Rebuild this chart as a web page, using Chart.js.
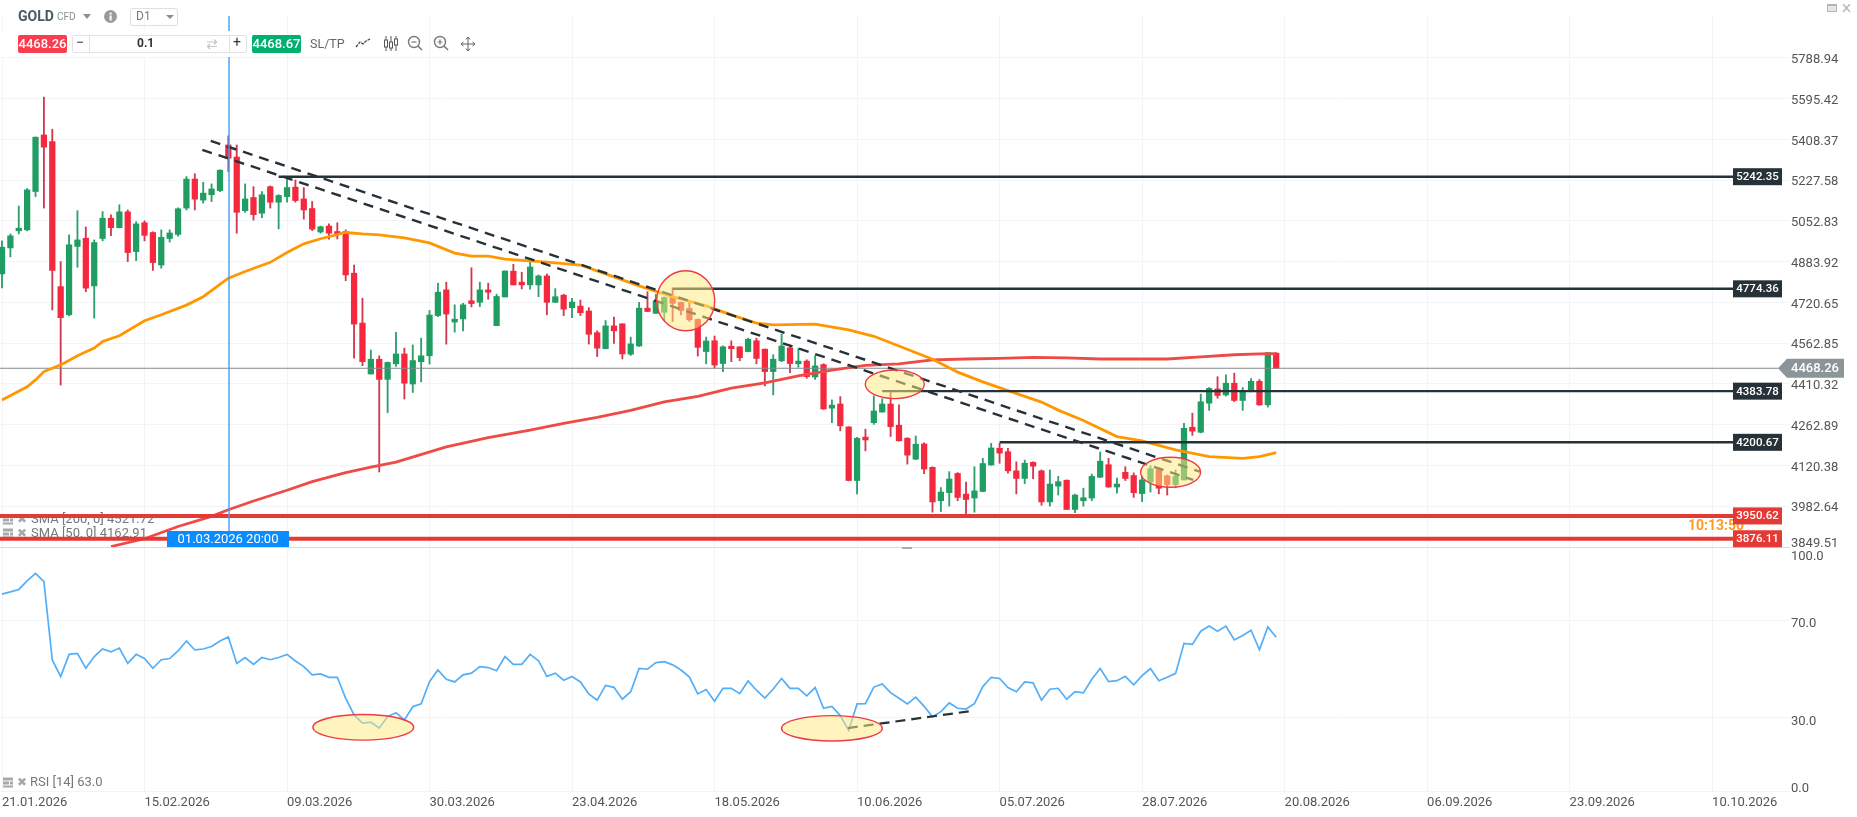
<!DOCTYPE html>
<html>
<head>
<meta charset="utf-8">
<title>GOLD D1</title>
<script src="https://cdn.jsdelivr.net/npm/chart.js@4/dist/chart.umd.min.js"></script>
<style>
body {margin:0; background:#fff; font-family:Roboto,sans-serif; overflow:hidden;}
#wrap {position:relative; width:1857px; height:817px;}
#topstrip {position:absolute; left:0; top:0; width:1857px; height:16px; background:#fff;}
#toolstrip {position:absolute; left:0; top:31px; width:280px; height:26px; background:#fff;}
.t {position:absolute; white-space:nowrap;}
.box {position:absolute; box-sizing:border-box;}
.price {color:#fff; font-size:13px; font-weight:500; text-align:center; line-height:18px; height:18px; width:49px; top:35px; border-radius:2px;}
svg {position:absolute;}
</style>
</head>
<body>
<div id="wrap">
  <canvas id="gold_chart" width="1857" height="817" style="position:absolute;left:0;top:0"></canvas>
  <div id="topstrip"></div>
  <div id="toolstrip"></div>

  <div class="t" style="left:18px;top:8px;font-size:14px;font-weight:700;color:#455a64">GOLD</div>
  <div class="t" style="left:57px;top:11px;font-size:10px;color:#8a8f94">CFD</div>
  <svg style="left:83px;top:14px" width="8" height="5"><path d="M0 0H8L4 5Z" fill="#8a8f94"/></svg>
  <svg style="left:104px;top:10px" width="13" height="13"><circle cx="6.5" cy="6.5" r="6.5" fill="#9a9a9a"/><rect x="5.6" y="5.5" width="2" height="5" fill="#fff"/><rect x="5.6" y="2.6" width="2" height="2" fill="#fff"/></svg>
  <div class="box" style="left:130px;top:8px;width:48px;height:18px;border:1px solid #e0e0e0;border-radius:2px"></div>
  <div class="t" style="left:136px;top:9px;font-size:12px;color:#7b7b7b">D1</div>
  <svg style="left:166px;top:15px" width="8" height="4"><path d="M0 0H8L4 4Z" fill="#8a8f94"/></svg>

  <div class="box price" style="left:18px;background:#fb3b4e">4468.26</div>
  <div class="box" style="left:72px;top:35px;width:175px;height:18px;border:1px solid #e2e2e2;border-radius:2px"></div>
  <div class="box" style="left:89px;top:35px;width:1px;height:18px;background:#e2e2e2"></div>
  <div class="box" style="left:229px;top:35px;width:1px;height:18px;background:#e2e2e2"></div>
  <div class="t" style="left:76px;top:34px;font-size:14px;color:#333">&#8722;</div>
  <div class="t" style="left:137px;top:36px;font-size:12px;font-weight:700;color:#333">0.1</div>
  <div class="t" style="left:233px;top:34px;font-size:14px;color:#333">+</div>
  <svg style="left:206px;top:38px" width="12" height="12"><path d="M1 4H10M8 1.5L10.5 4 8 6.5M11 8.5H2M4 6L1.5 8.5 4 11" fill="none" stroke="#c4c4c4" stroke-width="1.2"/></svg>
  <div class="box price" style="left:252px;background:#00b06f">4468.67</div>
  <div class="t" style="left:310px;top:36px;font-size:12.5px;color:#666">SL/TP</div>
  <svg style="left:355px;top:38px" width="16" height="10"><path d="M1 9L5 4 8 6 11 3 15 1" fill="none" stroke="#444" stroke-width="1.3" stroke-dasharray="3 1"/></svg>
  <svg style="left:383px;top:35px" width="16" height="18"><path d="M3 1V16M8 1V16M13 1V16" stroke="#555" stroke-width="1"/><rect x="1.5" y="5" width="3" height="7" fill="#fff" stroke="#555"/><rect x="6.5" y="7" width="3" height="6" fill="#fff" stroke="#555"/><rect x="11.5" y="4" width="3" height="6" fill="#fff" stroke="#555"/></svg>
  <svg style="left:407px;top:35px" width="16" height="16"><circle cx="7" cy="7" r="5.5" fill="none" stroke="#777" stroke-width="1.4"/><path d="M11 11L15 15" stroke="#777" stroke-width="1.6"/><path d="M4.5 7H9.5" stroke="#777" stroke-width="1.2"/></svg>
  <svg style="left:433px;top:35px" width="16" height="16"><circle cx="7" cy="7" r="5.5" fill="none" stroke="#777" stroke-width="1.4"/><path d="M11 11L15 15" stroke="#777" stroke-width="1.6"/><path d="M4.5 7H9.5M7 4.5V9.5" stroke="#777" stroke-width="1.2"/></svg>
  <svg style="left:460px;top:36px" width="16" height="16"><path d="M8 1V15M1 8H15M8 1L6 3.5M8 1L10 3.5M8 15L6 12.5M8 15L10 12.5M1 8L3.5 6M1 8L3.5 10M15 8L12.5 6M15 8L12.5 10" fill="none" stroke="#666" stroke-width="1"/></svg>

  <svg style="left:1827px;top:4px" width="26" height="9"><rect x="0" y="0" width="10" height="8" fill="#b5b5b5"/><rect x="1" y="2" width="8" height="5" fill="#e6e6e6"/><path d="M16 0L23 8M23 0L16 8" stroke="#b5b5b5" stroke-width="1.4"/></svg>
</div>

<script>
// ticks
const tickLabels = ['21.01.2026','15.02.2026','09.03.2026','30.03.2026','23.04.2026','18.05.2026','10.06.2026','05.07.2026','28.07.2026','20.08.2026','06.09.2026','23.09.2026','10.10.2026'];
const tickStep = 17;
const priceTicks = [5788.94,5595.42,5408.37,5227.58,5052.83,4883.92,4720.65,4562.85,4410.32,4262.89,4120.38,3982.64,3849.51];
const rsiTicks = [100,70,30,0];

// candles, one per trading day
const opens = [4834,4940,5011,5015,5178,5428,5398,4783,4672,4946,
  4980,4786,4979,5064,5024,5091,4925,5045,5004,4870,
  4979,4996,5107,5232,5141,5164,5182,5383,5329,5096,
  5152,5085,5199,5132,5156,5197,5146,5105,5006,5031,
  5008,5008,4837,4640,4447,4502,4427,4485,4522,4410,
  4493,4515,4669,4770,4644,4656,4727,4721,4770,4630,
  4742,4845,4801,4790,4790,4826,4721,4749,4700,4706,
  4687,4603,4542,4629,4637,4521,4552,4698,4678,4682,
  4741,4721,4697,4654,4531,4572,4486,4551,4549,4531,
  4572,4540,4456,4496,4545,4485,4495,4436,4482,4322,
  4337,4255,4069,4219,4270,4308,4337,4261,4215,4142,
  4195,4114,4001,4028,4093,4023,4010,4032,4122,4180,
  4168,4102,4076,4131,4102,3997,4050,4070,3972,4001,
  4010,4080,4123,4047,4097,4086,4025,4064,4106,4085,
  4055,4071,4254,4236,4340,4392,4370,4413,4350,4382,
  4420,4334,4525];
const closes = [4943,4990,5022,5185,5418,5373,4848,4661,4953,4973,
  4777,4962,5064,5024,5091,4921,5040,4992,4880,4984,
  5002,5104,5232,5145,5171,5189,5271,5324,5089,5146,
  5079,5164,5132,5161,5195,5139,5099,5018,5028,5001,
  4998,4830,4636,4493,4502,4427,4490,4522,4413,4497,
  4515,4671,4761,4675,4655,4711,4716,4770,4761,4744,
  4846,4790,4790,4862,4826,4721,4743,4694,4722,4680,
  4597,4544,4629,4610,4522,4560,4698,4685,4726,4740,
  4717,4689,4653,4547,4571,4480,4549,4542,4508,4578,
  4505,4456,4502,4552,4486,4495,4437,4477,4319,4333,
  4259,4069,4215,4209,4312,4337,4256,4206,4156,4194,
  4108,3997,4030,4074,4012,4005,4034,4127,4181,4163,
  4102,4076,4128,4118,3997,4057,4065,3972,4020,4011,
  4083,4135,4047,4057,4076,4028,4071,4109,4043,4055,
  4083,4250,4240,4345,4394,4368,4413,4350,4384,4420,
  4334,4527,4468.26];
const highs = [4969,4998,5116,5191,5419,5602,5454,4884,4994,5096,
  5027,4973,5092,5078,5121,5099,5049,5053,5007,5015,
  5015,5108,5243,5255,5218,5211,5272,5424,5383,5211,
  5199,5178,5202,5164,5236,5228,5195,5135,5031,5040,
  5045,5015,4870,4737,4537,4515,4492,4604,4544,4556,
  4582,4689,4797,4801,4711,4717,4859,4801,4797,4753,
  4846,4873,4841,4898,4830,4834,4775,4753,4737,4730,
  4700,4610,4650,4663,4637,4586,4721,4763,4752,4743,
  4777,4722,4723,4656,4586,4590,4553,4572,4549,4582,
  4582,4541,4519,4598,4556,4544,4500,4516,4485,4352,
  4364,4256,4218,4247,4367,4356,4379,4334,4217,4223,
  4199,4116,4045,4099,4096,4064,4116,4145,4197,4197,
  4180,4133,4139,4133,4105,4105,4083,4071,4023,4043,
  4091,4167,4145,4077,4116,4095,4083,4120,4111,4088,
  4105,4268,4304,4373,4397,4437,4444,4450,4397,4430,
  4427,4527,4527];
const lows = [4778,4903,4998,5011,5156,5107,4691,4406,4668,4861,
  4763,4659,4969,4991,5023,4884,4888,4969,4848,4857,
  4964,4989,5099,5099,5128,5135,5177,5265,5001,5089,
  5056,5066,5107,5019,5132,5132,5060,5012,5001,4976,
  4977,4807,4506,4478,4447,4098,4306,4475,4355,4379,
  4418,4484,4665,4559,4605,4610,4703,4704,4733,4630,
  4742,4790,4774,4773,4743,4672,4720,4669,4661,4669,
  4559,4512,4541,4562,4503,4516,4550,4684,4677,4649,
  4646,4672,4646,4514,4485,4469,4456,4493,4496,4530,
  4485,4403,4370,4493,4452,4472,4431,4427,4318,4270,
  4241,4068,4024,4171,4264,4308,4221,4205,4125,4140,
  4092,3963,3965,3983,4001,3951,3963,4031,4121,4128,
  4094,4024,4058,4075,3986,3983,4020,3972,3961,3983,
  4001,4079,4046,4026,4069,4012,3998,4030,4024,4020,
  4044,4071,4225,4234,4314,4358,4366,4346,4314,4381,
  4332,4326,4468];

// moving averages, read at the bars listed
const sma50Idx = [0,3,4,5,7,9,11,12,14,17,19,22,24,27,29,32,34,36,38,41,43,45,48,51,54,56,58,60,65,69,72,76,80,84,87,90,92,97,101,104,107,111,114,117,120,124,126,129,133,136,140,144,148,150,152];
const sma50Vals = [4352,4400,4425,4456,4481,4515,4544,4569,4591,4649,4672,4710,4743,4817,4844,4881,4921,4957,4978,5004,4998,4994,4982,4961,4919,4906,4906,4894,4882,4870,4834,4786,4743,4707,4672,4640,4633,4636,4614,4589,4552,4502,4454,4418,4386,4344,4315,4278,4221,4206,4174,4151,4145,4151,4165];
const sma200Idx = [13,17,21,25,27,30,34,37,41,44,47,53,58,63,67,71,75,79,83,87,91,95,99,103,107,111,115,119,123,127,131,135,139,143,147,150,152];
const sma200Vals = [3851,3876,3916,3949,3971,4000,4036,4065,4096,4115,4132,4185,4217,4244,4268,4289,4314,4345,4365,4395,4414,4440,4461,4479,4485,4500,4503,4505,4509,4507,4503,4503,4503,4511,4519,4522,4523];

const rsiVals = [80.7,81.6,82.6,86.1,89.2,85.8,53.7,46.9,56.0,56.4,
  50.3,55.1,58.2,57.0,58.6,52.3,56.0,54.3,50.3,53.8,
  54.3,57.4,61.5,57.8,58.2,59.2,61.5,63.1,52.3,54.7,
  51.9,54.7,53.8,54.7,56.0,53.3,51.0,47.6,48.0,46.6,
  46.6,38.0,31.2,27.8,28.2,25.8,30.5,32.1,29.1,34.5,
  35.7,44.8,49.6,45.8,44.7,47.6,48.3,51.0,50.6,49.3,
  55.1,51.9,51.9,56.0,53.4,47.0,48.3,45.4,46.9,44.7,
  39.8,37.2,43.3,42.5,37.6,40.7,50.2,49.9,52.6,53.0,
  51.7,49.6,46.7,39.8,41.6,36.8,42.1,42.1,39.9,45.1,
  41.3,38.1,41.8,46.1,42.1,42.1,39.0,42.4,33.9,34.7,
  30.9,24.8,35.7,35.8,42.6,43.9,40.3,38.0,35.7,38.5,
  34.7,30.4,32.5,36.1,33.9,33.6,35.8,42.8,46.6,46.1,
  42.4,40.7,44.7,44.3,37.2,41.7,42.1,37.6,40.7,40.2,
  45.8,50.2,44.8,45.2,47.0,43.5,47.3,50.2,45.2,46.6,
  48.2,60.5,60.1,65.5,67.6,65.5,67.6,61.9,63.7,65.9,
  57.9,67.2,63.0];

// drawings on the chart
const levelStarts = [33,80,105,119];
const levelVals = [5242.35,4774.36,4383.78,4200.67];
const redLevels = [3950.62,3876.11];
const lastPrice = 4468.26;
const trendUpper = [[24.9,5401],[142.9,4099]];
const trendLower = [[23.9,5361],[142.1,4071]];
const rsiTrend = [[100.9,25.8],[115.9,32.9]];
const crossIdx = 27.08;
const crossLabel = '01.03.2026 20:00';
const priceMarks = [[81.56,4727,29,30],[106.5,4409,29.5,14.3],[139.4,4097,30,15]];
const rsiMarks = [[43.1,26.1,50.4,12.8],[99.0,25.7,50.4,12.7]];

const GREEN = '#1f9d63', RED = '#f5283e', DARK = '#263238';
const idx = opens.map((v, i) => i);
const up = i => closes[i] >= opens[i];

function seg(pts, color, width, dash, yAxisID, order) {
  return {type:'line', data:pts.map(p => ({x:p[0], y:p[1]})), borderColor:color, borderWidth:width,
    borderDash:dash || [], pointRadius:0, yAxisID:yAxisID || 'y', order:order || 2, tension:0};
}

// edge labels must not push the plot area in
function noPadding(s) {
  s.paddingTop = 0;
  s.paddingBottom = 0;
  s.paddingLeft = 0;
  s.paddingRight = 0;
}

const sidePlugin = {
  id:'sidePlugin',
  beforeDatasetsDraw(chart) {
    const c = chart.ctx;
    c.save();
    c.textBaseline = 'middle';
    c.font = '13px Roboto';
    c.fillStyle = '#777';
    c.fillText('SMA [200, 0] 4521.72', 31, 519.5);
    c.fillText('SMA [50, 0] 4162.91', 31, 533.5);
    c.fillText('RSI [14] 63.0', 30, 782.5);
    [519.5, 533.5, 782.5].forEach(y => {
      c.fillStyle = '#a8a8a8';
      c.fillRect(3, y - 5, 10, 3);
      c.fillRect(3, y - 1, 6, 3);
      c.fillRect(10, y - 1, 3, 3);
      c.fillRect(3, y + 3, 10, 2);
      c.font = '12px "DejaVu Sans"';
      c.fillText('\u2716', 17, y);
      c.font = '13px Roboto';
    });
    c.font = 'bold 14px Roboto';
    c.fillStyle = '#ff9a1f';
    c.fillText('10:13:50', 1688, 526);
    c.restore();
  },
  afterDatasetsDraw(chart) {
    const c = chart.ctx, x = chart.scales.x, y = chart.scales.y, r = chart.scales.rsi;
    const area = chart.chartArea;
    c.save();

    // yellow marks
    const oval = (cx, cy, rx, ry) => {
      c.beginPath();
      c.ellipse(cx, cy, rx, ry, 0, 0, Math.PI * 2);
      c.fillStyle = 'rgba(255,233,130,0.52)';
      c.fill();
      c.lineWidth = 1.4;
      c.strokeStyle = '#ef3b46';
      c.stroke();
    };
    priceMarks.forEach(m => oval(x.getPixelForValue(m[0]), y.getPixelForValue(m[1]), m[2], m[3]));
    rsiMarks.forEach(m => oval(x.getPixelForValue(m[0]), r.getPixelForValue(m[1]), m[2], m[3]));

    // crosshair
    const cx = x.getPixelForValue(crossIdx);
    c.strokeStyle = '#3f9ff5';
    c.lineWidth = 1.4;
    c.beginPath();
    c.moveTo(cx, 16);
    c.lineTo(cx, 532);
    c.stroke();
    c.fillStyle = '#0a8cff';
    c.fillRect(167, 531, 122, 16);
    c.fillStyle = '#fff';
    c.font = '13px Roboto';
    c.textAlign = 'center';
    c.textBaseline = 'middle';
    c.fillText(crossLabel, 228, 539.5);

    // panel separator
    c.fillStyle = '#dcdcdc';
    c.fillRect(0, 547, area.right, 1);
    c.fillStyle = '#a9adb0';
    c.fillRect(902, 547, 10, 2);

    // value tags
    const tag = (val, bg) => {
      const py = y.getPixelForValue(val);
      c.fillStyle = bg;
      c.fillRect(1733, py - 8.5, 49, 17);
      c.fillStyle = '#fff';
      c.font = '500 11.5px Roboto';
      c.fillText(val.toFixed(2), 1757.5, py + 0.5);
    };
    levelVals.forEach(v => tag(v, DARK));
    redLevels.forEach(v => tag(v, '#e53935'));

    // last price tag
    const py = y.getPixelForValue(lastPrice);
    c.fillStyle = '#8a9499';
    c.beginPath();
    c.moveTo(1778, py);
    c.lineTo(1787, py - 9.5);
    c.lineTo(1844, py - 9.5);
    c.lineTo(1844, py + 9.5);
    c.lineTo(1787, py + 9.5);
    c.closePath();
    c.fill();
    c.fillStyle = '#fff';
    c.font = '500 13px Roboto';
    c.textAlign = 'left';
    c.fillText(lastPrice.toFixed(2), 1791, py + 0.5);

    // axis end labels sit inside the panels
    c.fillStyle = '#555';
    c.font = '13px Roboto';
    c.fillText(priceTicks[priceTicks.length - 1].toFixed(2), 1791, y.getPixelForValue(priceTicks[priceTicks.length - 1]) - 3);
    c.fillText('100.0', 1791, r.getPixelForValue(100) + 10);
    c.fillText('0.0', 1791, r.getPixelForValue(0) - 2);
    c.restore();
  }
};

const datasets = [
  {label:'wick', type:'bar', data:idx.map(i => ({x:i, y:[lows[i], highs[i]]})),
    backgroundColor:idx.map(i => up(i) ? '#2f9f6e' : '#d03a50'), barThickness:1.2, grouped:false, order:6},
  {label:'body', type:'bar', data:idx.map(i => ({x:i, y:[opens[i], closes[i]]})),
    backgroundColor:idx.map(i => up(i) ? GREEN : RED), barThickness:5.6, grouped:false, minBarLength:1, order:5},
  seg([[-0.24,lastPrice],[211.9,lastPrice]], '#7f8a8f', 1.2, null, 'y', 4),
  seg(sma50Idx.map((v, i) => [v, sma50Vals[i]]), '#ff9800', 2.8, null, 'y', 3),
  seg(sma200Idx.map((v, i) => [v, sma200Vals[i]]), '#ef4a45', 2.8, null, 'y', 3),
  seg(trendUpper, DARK, 2.4, [10,7]),
  seg(trendLower, DARK, 2.4, [10,7]),
  {type:'line', data:rsiVals.map((v, i) => ({x:i, y:v})), borderColor:'#53aef8', borderWidth:1.7,
    pointRadius:0, yAxisID:'rsi', order:3, tension:0},
  seg(rsiTrend, DARK, 2.2, [10,6], 'rsi', 2)
];
levelVals.forEach((v, i) => datasets.push(seg([[levelStarts[i],v],[207,v]], DARK, 2.4)));
redLevels.forEach(v => datasets.push(seg([[-0.24,v],[207,v]], '#e53935', 4)));

const gold_chart = new Chart(document.getElementById('gold_chart'), {
  type:'bar',
  data:{datasets:datasets},
  plugins:[sidePlugin],
  options:{
    responsive:false,
    animation:false,
    events:[],
    layout:{padding:0},
    plugins:{legend:{display:false}, tooltip:{enabled:false}},
    scales:{
      x:{
        type:'linear', offset:false, min:-0.2386, max:213.29,
        grid:{color:'#f3f4f6', offset:false, drawTicks:false},
        border:{display:false},
        afterBuildTicks:s => { s.ticks = tickLabels.map((l, i) => ({value:i * tickStep})); },
        afterFit:s => { s.height = 26; noPadding(s); },
        ticks:{
          align:'start', autoSkip:false, maxRotation:0, padding:4,
          color:'#555', font:{family:'Roboto', size:13},
          callback:v => tickLabels[Math.round(v / tickStep)]
        }
      },
      y:{
        type:'logarithmic', position:'right', stack:'panes', stackWeight:547,
        min:3849.51, max:6074.7,
        grid:{color:'#f3f4f6', drawTicks:false},
        border:{display:false},
        afterBuildTicks:s => { s.ticks = priceTicks.map(v => ({value:v})); },
        afterFit:s => { s.width = 67; noPadding(s); },
        ticks:{
          autoSkip:false, padding:1, labelOffset:2, color:'#555', font:{family:'Roboto', size:13},
          callback:v => v === priceTicks[priceTicks.length - 1] ? '' : v.toFixed(2)
        }
      },
      rsi:{
        type:'linear', position:'right', stack:'panes', stackWeight:244,
        min:0, max:100,
        grid:{color:'#f3f4f6', drawTicks:false},
        border:{display:false},
        afterBuildTicks:s => { s.ticks = rsiTicks.map(v => ({value:v})); },
        afterFit:s => { s.width = 67; noPadding(s); },
        ticks:{
          autoSkip:false, padding:1, labelOffset:3.5, color:'#555', font:{family:'Roboto', size:13},
          callback:v => (v === 0 || v === 100) ? '' : v.toFixed(1)
        }
      }
    }
  }
});
</script>
</body>
</html>
